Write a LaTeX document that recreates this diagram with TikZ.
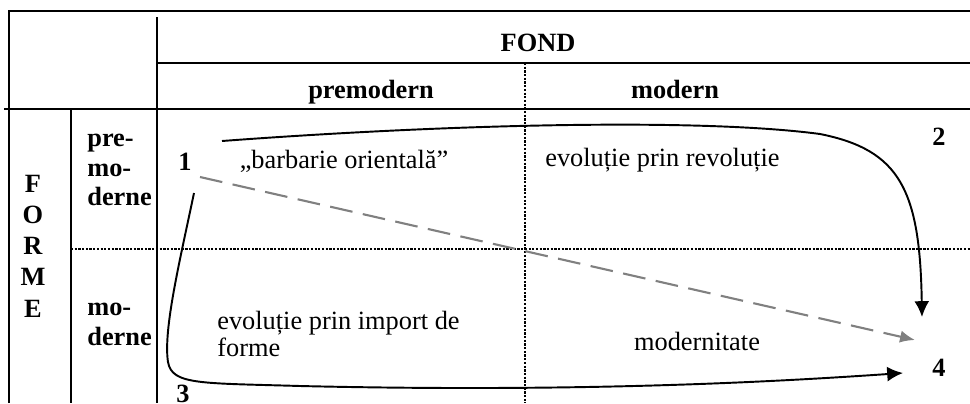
\documentclass[tikz,border=0pt]{standalone}
\usepackage{fontspec}
\setmainfont{Liberation Serif}
\usetikzlibrary{arrows.meta}
\begin{document}
\begin{tikzpicture}[x=.02cm,y=-.02cm,font=\fontsize{15}{17}\selectfont,
 hd/.style={font=\fontsize{15}{17}\selectfont\bfseries},
 dots/.style={line width=1.4pt,dash pattern=on 1.3pt off .8pt},
 arr/.style={line width=1.1pt,-{Latex[length=9pt,width=8.5pt]}}]
\useasboundingbox (0,0) rectangle (970,403);
\draw[line width=1.2pt] (9,403)--(9,11)--(970,11) (157,17)--(157,403) (157,63)--(970,63) (4,109)--(970,109) (71,109)--(71,403);
\draw[dots] (71,249)--(970,249) (525,63)--(525,403);
\path (538,43) node[hd] (fond) {FOND} (371,98) node[hd,anchor=base] (pre) {premodern} ++(304,0) node[hd,anchor=base] (mod) {modern}
(33,246) node[hd,align=center,font=\fontsize{15}{17.8}\selectfont\bfseries] (forme) {F\\O\\R\\M\\E}
(87,170) node[hd,anchor=west,inner sep=0,align=left] (fpre) {pre-\\mo-\\derne} (87,324) node[hd,anchor=west,inner sep=0,align=left] (fmod) {mo-\\derne}
(185,162) node[hd] (n1) {1} (939,137) node[hd] (n2) {2} (183,394) node[hd] (n3) {3} (939,368) node[hd] (n4) {4}
(344,168) node[anchor=base] (bo) {„barbarie orientală”} (545,166) node[anchor=base west,inner sep=0] (er) {evoluție prin revoluție}
(217,334) node[anchor=west,inner sep=0,align=left,font=\fontsize{15}{15.5}\selectfont] (ei) {evoluție prin import de\\forme} (697,341) node (mt) {modernitate};
\path (n1) ++(37,-21) coordinate (s12) (n1) ++(9,31) coordinate (s13) (n1) ++(15,15) coordinate (s14)
(n4) ++(-17,-51) coordinate (e24) (n4) ++(-36,5) coordinate (e34) (n4) ++(-24,-28) coordinate (e14);
\draw[arr] (s12) .. controls (450,124) and (700,118) .. (820,134) .. controls (900,150) and (920,190) .. (e24);
\draw[arr] (s13) .. controls (180,260) and (163,330) .. (168,362) .. controls (172,385) and (200,383) .. (300,386) .. controls (600,393) and (800,380) .. (e34);
\draw[arr,gray,line width=1.2pt,dash pattern=on 13pt off 6pt,-{Latex[length=8.5pt,width=7pt]}] (s14) -- (e14);
\end{tikzpicture}
\end{document}
